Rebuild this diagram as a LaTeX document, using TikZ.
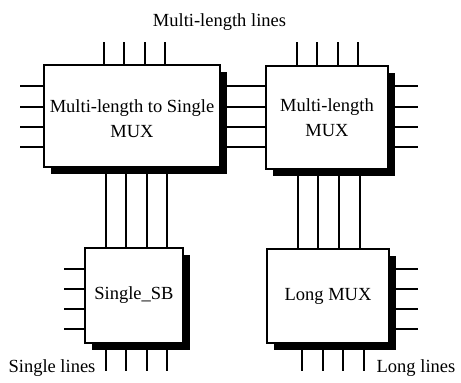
\documentclass[tikz,border=0pt]{standalone}
\usepackage{fontspec}
\setmainfont{Liberation Serif}
\usetikzlibrary{shadows,backgrounds}
\begin{document}
\begin{tikzpicture}[x=1pt,y=-1pt,
  blk/.style={draw, line width=1.3pt, fill=white, inner sep=0pt, align=center,
    font=\fontsize{18.5}{25}\selectfont,
    drop shadow={shadow xshift=7pt, shadow yshift=-7pt, opacity=1, fill=black}},
  txt/.style={inner sep=0pt, align=center, font=\fontsize{18.5}{25}\selectfont},
  pin/.style={line width=1.3pt},
  lbl/.style={font=\fontsize{18.5}{22}\selectfont, inner sep=0pt, anchor=base}]
\useasboundingbox (0,0) rectangle (461,383);
\node[blk, minimum width=176pt, minimum height=102pt] (b1) at (132,116) {};
\node[txt] (b1t) at ([yshift=-3pt]b1.center) {Multi-length to Single\\MUX};
\node[blk, minimum width=122pt, minimum height=103pt] (b2) at (327,117.5) {Multi-length\\MUX};
\node[blk, minimum width=98pt, minimum height=95pt] (b3) at (134,295.5) {Single\_SB};
\node[blk, minimum width=122pt, minimum height=94pt] (b4) at (328,296) {Long MUX};
\node[lbl] (t1) at (219.5,26) {Multi-length lines};
\node[lbl] (t2) at (52,372) {Single lines};
\node[lbl] (t3) at (416,372) {Long lines};
\begin{pgfonlayer}{background}
  \foreach \y in {86,107,127,147} {
    \draw[pin] (b1.west |- 0,\y) -- ++(-23,0);
    \draw[pin] (b1.east |- 0,\y) -- (b2.west |- 0,\y);
    \draw[pin] (b2.east |- 0,\y) -- ++(29,0);
  }
  \foreach \x in {104,124,145,165} { \draw[pin] (b1.north -| \x,0) -- ++(0,-22); }
  \foreach \x in {297,317,338,358} { \draw[pin] (b2.north -| \x,0) -- ++(0,-23); }
  \foreach \x in {106,126,147,167} {
    \draw[pin] (b1.south -| \x,0) -- (b3.north -| \x,0);
    \draw[pin] (b3.south -| \x,0) -- ++(0,27);
  }
  \foreach \x in {298,318,339,360} { \draw[pin] (b2.south -| \x,0) -- (b4.north -| \x,0); }
  \foreach \x in {302,323,343,364} { \draw[pin] (b4.south -| \x,0) -- ++(0,27); }
  \foreach \y in {269,289,309,329} {
    \draw[pin] (b3.west |- 0,\y) -- ++(-20,0);
    \draw[pin] (b4.east |- 0,\y) -- ++(28,0);
  }
\end{pgfonlayer}
\end{tikzpicture}
\end{document}
